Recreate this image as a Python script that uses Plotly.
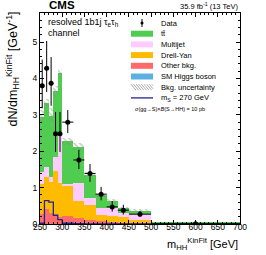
import plotly.graph_objects as go

# ---------------- data ----------------
bin_edges = [250, 260, 270, 280, 290, 300, 325, 350, 375, 400, 425, 450, 500, 700]
bin_centers = [255, 265, 275, 285, 295, 312.5, 337.5, 362.5, 387.5, 412.5, 437.5, 475, 600]
bin_widths = [10, 10, 10, 10, 10, 25, 25, 25, 25, 25, 25, 50, 200]
bin_half = [5, 5, 5, 5, 5, 12.5, 12.5, 12.5, 12.5, 12.5, 12.5, 25, 100]

sm_higgs = [0.01, 0.01, 0.01, 0.01, 0.01, 0.01, 0.01, 0.01, 0.005, 0.005, 0.005, 0.005, 0.001]
other_bkg = [0.27, 0.41, 0.29, 0.21, 0.19, 0.21, 0.16, 0.11, 0.065, 0.045, 0.035, 0.015, 0.003]
drell_yan = [0.82, 0.86, 0.85, 1.24, 0.92, 0.83, 0.47, 0.40, 0.18, 0.17, 0.14, 0.09, 0.008]
multijet = [0.32, 0.30, 0.15, 0.39, 1.33, 0.05, 0.48, 0.19, 0.20, 0.21, 0.13, 0.17, 0.008]
ttbar = [1.53, 1.74, 1.68, 1.80, 1.70, 1.17, 1.01, 0.65, 0.35, 0.21, 0.12, 0.09, 0.01]
bkg_total = [2.95, 3.32, 2.98, 3.65, 4.15, 2.27, 2.13, 1.36, 0.80, 0.64, 0.43, 0.37, 0.03]
bkg_unc = [0.18, 0.12, 0.20, 0.15, 0.12, 0.10, 0.10, 0.07, 0.05, 0.05, 0.04, 0.03, 0.005]

data_vals = [3.80, 4.28, 3.87, 2.48, 2.48, 2.80, 1.76, 1.39, 0.82, 0.47, 0.38, 0.27, 0.005]
data_err_up = [0.72, 0.75, 0.72, 0.60, 0.60, 0.33, 0.28, 0.26, 0.20, 0.16, 0.15, 0.09, 0.009]
data_err_dn = [0.62, 0.65, 0.62, 0.50, 0.50, 0.30, 0.25, 0.23, 0.17, 0.13, 0.12, 0.07, 0.004]

signal = [0.02, 0.64, 0.60, 0.24, 0.12, 0.02, 0.01, 0.005, 0.003, 0.002, 0.001, 0.001, 0.0005]

x_ticks = [250, 300, 350, 400, 450, 500, 550, 600, 650, 700]
y_ticks = [0, 1, 2, 3, 4, 5]

C_TT = "#50cc50"
C_MJ = "#ffccff"
C_DY = "#ffbb00"
C_OT = "#ff6b6b"
C_SM = "#5ab0e0"
C_SIG = "#23238e"
FONT = "Liberation Sans, Arial, sans-serif"

W, H = 266, 255
ML, MR, MT, MB = 40, 26, 13, 31
PW, PH = W - ML - MR, H - MT - MB


def px(xp):
    return (xp - ML) / PW


def py(yp):
    return (H - MB - yp) / PH


fig = go.Figure()

for name, vals, col in [("SM Higgs boson", sm_higgs, C_SM), ("Other bkg.", other_bkg, C_OT),
                        ("Drell-Yan", drell_yan, C_DY), ("Multijet", multijet, C_MJ),
                        ("tt", ttbar, C_TT)]:
    fig.add_trace(go.Bar(x=bin_centers, y=vals, width=bin_widths, name=name,
                         marker=dict(color=col, line=dict(width=0)), showlegend=False))

# uncertainty band (hatched)
fig.add_trace(go.Bar(x=bin_centers, width=bin_widths,
                     base=[t - u for t, u in zip(bkg_total, bkg_unc)],
                     y=[2 * u for u in bkg_unc],
                     marker=dict(color="rgba(0,0,0,0)", line=dict(width=0),
                                 pattern=dict(shape="\\", fgcolor="#888888", size=4, solidity=0.35)),
                     showlegend=False))

# signal line
fig.add_trace(go.Scatter(x=bin_edges, y=signal + [signal[-1]], mode="lines",
                         line=dict(color=C_SIG, width=1.3, shape="hv"), showlegend=False))

# data
fig.add_trace(go.Scatter(x=bin_centers, y=data_vals, mode="markers",
                         marker=dict(color="black", size=5),
                         error_y=dict(type="data", symmetric=False, array=data_err_up,
                                      arrayminus=data_err_dn, color="black", thickness=1, width=0),
                         error_x=dict(type="data", array=bin_half, color="black", thickness=1, width=0),
                         showlegend=False))

fig.update_layout(
    width=W, height=H, margin=dict(l=ML, r=MR, t=MT, b=MB),
    barmode="stack", bargap=0, paper_bgcolor="white", plot_bgcolor="white",
    font=dict(family=FONT, color="black", size=8),
)
fig.update_xaxes(range=[250, 700], tickvals=x_ticks, ticks="inside", ticklen=4, tickwidth=1,
                 tickcolor="black", showline=True, linecolor="black", linewidth=1, mirror="ticks",
                 showgrid=False, zeroline=False, tickfont=dict(size=8.5), ticklabelstandoff=-5,
                 minor=dict(dtick=10, tick0=250, ticks="inside", ticklen=2, tickcolor="black", showgrid=False))
fig.update_yaxes(range=[0, 5.8], tickvals=y_ticks, ticks="inside", ticklen=4, tickwidth=1,
                 tickcolor="black", showline=True, linecolor="black", linewidth=1, mirror="ticks",
                 showgrid=False, zeroline=False, tickfont=dict(size=8.5),
                 minor=dict(dtick=0.2, tick0=0, ticks="inside", ticklen=2, tickcolor="black", showgrid=False))

ann = []
ann.append(dict(text="<b>CMS</b>", x=px(47), y=py(13), xref="paper", yref="paper", xanchor="left",
                yanchor="bottom", showarrow=False, font=dict(size=11.5)))
ann.append(dict(text="35.9 fb<sup>-1</sup> (13 TeV)", x=1, y=1, xref="paper", yref="paper",
                xanchor="right", yanchor="bottom", showarrow=False, font=dict(size=7.5)))
ann.append(dict(text="resolved 1b1j τ<sub>e</sub>τ<sub>h</sub>", x=px(46), y=py(22), xref="paper",
                yref="paper", xanchor="left", yanchor="middle", showarrow=False, font=dict(size=9)))
ann.append(dict(text="channel", x=px(46), y=py(33), xref="paper", yref="paper", xanchor="left",
                yanchor="middle", showarrow=False, font=dict(size=9)))
ann.append(dict(text="dN/dm<sub>HH</sub><sup>KinFit</sup> [GeV<sup>-1</sup>]", x=px(12), y=py(10),
                xref="paper", yref="paper", xanchor="center", yanchor="top", textangle=-90,
                showarrow=False, font=dict(size=12.5)))
ann.append(dict(text="m<sub>HH</sub><sup>KinFit</sup> [GeV]", x=1, y=py(243.5), xref="paper", yref="paper",
                xanchor="right", yanchor="middle", showarrow=False, font=dict(size=11)))

# manual legend
leg_items = [("Data", "data"), ("tt\u0304", C_TT), ("Multijet", C_MJ), ("Drell-Yan", C_DY),
             ("Other bkg.", C_OT), ("SM Higgs boson", C_SM), ("Bkg. uncertainty", "hatch"),
             ("m<sub>S</sub> = 270 GeV", "line")]
shapes = []
bx0, bx1 = 131, 153
y0 = 23
dy_ = 10.7
for i, (lab, kind) in enumerate(leg_items):
    yc = y0 + i * dy_
    ann.append(dict(text=lab, x=px(159), y=py(yc), xref="paper", yref="paper", xanchor="left",
                    yanchor="middle", showarrow=False, font=dict(size=7.5)))
    if kind == "data":
        shapes.append(dict(type="circle", xref="paper", yref="paper", x0=px(140.5), x1=px(143.5),
                           y0=py(yc + 1.5), y1=py(yc - 1.5), fillcolor="black", line=dict(width=0)))
        shapes.append(dict(type="line", xref="paper", yref="paper", x0=px(142), x1=px(142),
                           y0=py(yc + 4), y1=py(yc - 4), line=dict(color="black", width=1)))
    elif kind == "hatch":
        for k in range(9):
            xa = bx0 + k * 2.6
            xb = min(xa + 5, bx1)
            yb = yc - 3 + (xb - xa) * 6 / 5
            shapes.append(dict(type="line", xref="paper", yref="paper", x0=px(xa), x1=px(xb),
                               y0=py(yc - 3), y1=py(yb), line=dict(color="#888888", width=0.7)))
    elif kind == "line":
        shapes.append(dict(type="line", xref="paper", yref="paper", x0=px(bx0), x1=px(bx1),
                           y0=py(yc), y1=py(yc), line=dict(color=C_SIG, width=1.3)))
    else:
        shapes.append(dict(type="rect", xref="paper", yref="paper", x0=px(bx0), x1=px(bx1),
                           y0=py(yc + 3), y1=py(yc - 3), fillcolor=kind, line=dict(width=0)))
ann.append(dict(text="σ(gg→S)×<i>B</i>(S→HH) = 10 pb", x=px(133), y=py(109), xref="paper", yref="paper",
                xanchor="left", yanchor="middle", showarrow=False, font=dict(size=5.5)))

fig.update_layout(annotations=ann, shapes=shapes)
fig.write_html("out.html", config={"displayModeBar": False},
               post_script="document.body.style.margin='0';document.body.style.overflow='hidden';")
